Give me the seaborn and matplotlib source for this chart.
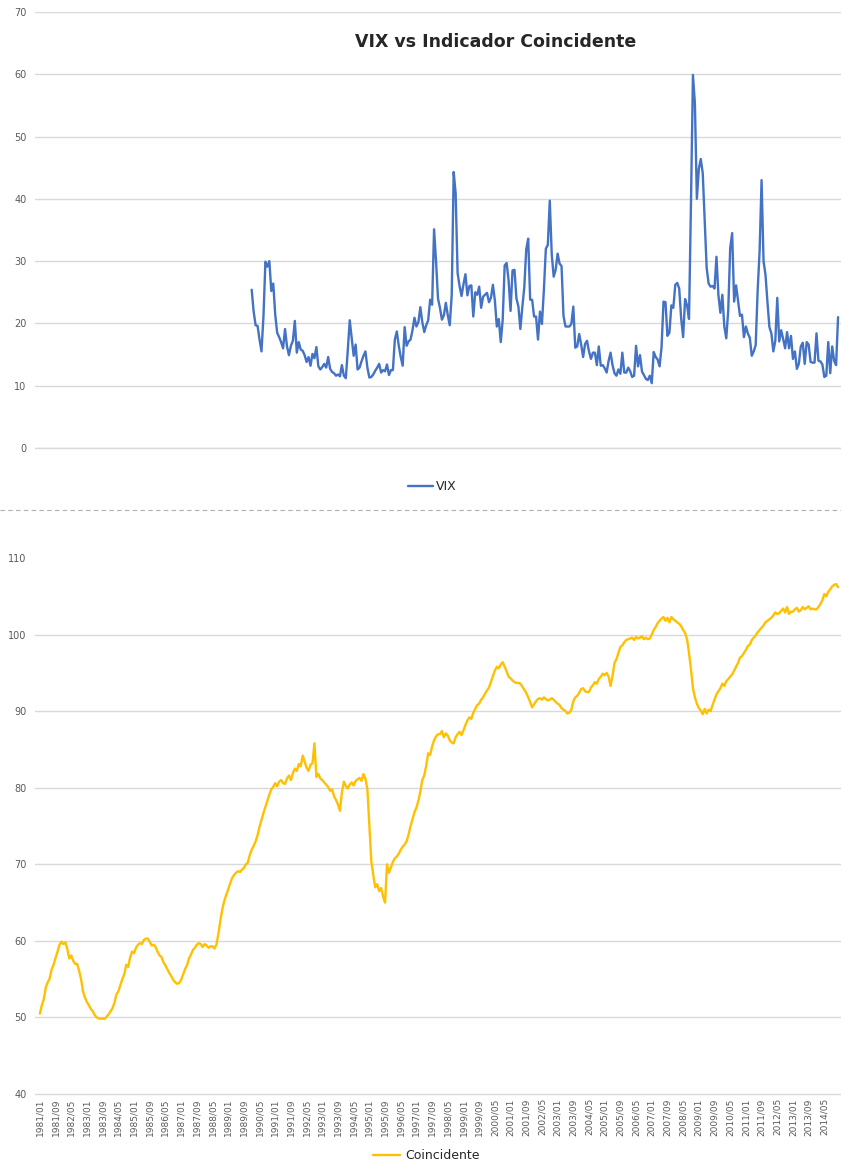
import pandas as pd
import numpy as np
import matplotlib
matplotlib.use("Agg")
import matplotlib.pyplot as plt
from matplotlib.lines import Line2D
import seaborn as sns

# VIX monthly close, 1990/01 - 2014/12
vix_values = [
    25.4, 21.9, 19.7, 19.6, 17.4, 15.5, 21.1, 29.9, 29.1, 30.0, 25.2, 26.4,  # 1990
    21.4, 18.5, 17.8, 17.0, 16.0, 19.1, 16.3, 14.9, 16.4, 17.2, 20.4, 15.3,  # 1991
    17.0, 15.8, 15.6, 14.9, 13.8, 14.6, 13.2, 15.1, 14.4, 16.2, 13.1, 12.6,  # 1992
    13.0, 13.5, 12.9, 14.6, 12.7, 12.2, 12.0, 11.6, 11.8, 11.5, 13.3, 11.6,  # 1993
    11.2, 15.7, 20.5, 17.6, 14.8, 16.6, 12.6, 12.9, 13.9, 14.8, 15.5, 12.9,  # 1994
    11.3, 11.4, 11.8, 12.4, 12.9, 13.5, 12.1, 12.5, 12.3, 13.4, 11.7, 12.5,  # 1995
    12.5, 17.4, 18.7, 16.4, 14.6, 13.2, 19.4, 16.4, 17.1, 17.4, 18.9, 20.9,  # 1996
    19.5, 20.2, 22.6, 20.2, 18.6, 19.7, 20.5, 23.8, 23.0, 35.1, 30.0, 24.0,  # 1997
    22.5, 20.6, 21.3, 23.3, 21.3, 19.7, 24.6, 44.3, 40.9, 28.1, 26.0, 24.4,  # 1998
    26.3, 27.9, 24.5, 26.0, 26.1, 21.1, 25.0, 24.6, 25.9, 22.5, 24.3, 24.6,  # 1999
    24.9, 23.4, 24.1, 26.2, 23.7, 19.5, 20.7, 17.0, 20.6, 29.3, 29.7, 26.9,  # 2000
    22.0, 28.5, 28.6, 24.0, 22.7, 19.1, 22.6, 25.8, 31.9, 33.6, 23.8, 23.8,  # 2001
    21.1, 21.1, 17.4, 21.9, 19.9, 25.4, 32.0, 32.6, 39.7, 31.1, 27.5, 28.6,  # 2002
    31.2, 29.6, 29.2, 21.2, 19.5, 19.5, 19.5, 19.9, 22.7, 16.1, 16.3, 18.3,  # 2003
    16.6, 14.6, 16.7, 17.2, 15.5, 14.3, 15.3, 15.3, 13.3, 16.3, 13.2, 13.3,  # 2004
    12.8, 12.1, 14.0, 15.3, 13.3, 12.0, 11.6, 12.6, 11.9, 15.3, 12.1, 12.1,  # 2005
    12.9, 12.3, 11.4, 11.6, 16.4, 13.1, 14.9, 12.3, 11.7, 11.1, 10.9, 11.6,  # 2006
    10.4, 15.4, 14.6, 14.2, 13.1, 16.2, 23.5, 23.4, 18.0, 18.5, 22.9, 22.5,  # 2007
    26.2, 26.5, 25.6, 20.8, 17.8, 23.9, 22.9, 20.7, 39.4, 59.9, 55.3, 40.0,  # 2008
    44.8, 46.4, 44.1, 36.5, 28.9, 26.4, 25.9, 26.0, 25.6, 30.7, 24.5, 21.7,  # 2009
    24.6, 19.5, 17.6, 22.1, 32.1, 34.5, 23.5, 26.1, 23.7, 21.2, 21.4, 17.8,  # 2010
    19.5, 18.4, 17.7, 14.8, 15.5, 16.5, 25.3, 31.6, 43.0, 30.0, 27.8, 23.4,  # 2011
    19.4, 18.4, 15.5, 17.2, 24.1, 17.1, 18.9, 17.5, 16.0, 18.6, 16.0, 18.0,  # 2012
    14.3, 15.5, 12.7, 13.5, 16.3, 16.9, 13.5, 17.0, 16.6, 13.8, 13.7, 13.7,  # 2013
    18.4, 14.0, 13.9, 13.4, 11.4, 11.6, 17.0, 12.0, 16.3, 14.0, 13.3, 21.0,  # 2014
]

# Indicador coincidente, 1981/01 - 2014/12
coincidente_values = [
    50.5, 51.6, 52.4, 53.9, 54.6, 55.1, 56.3, 56.9, 57.8, 58.6, 59.5, 59.9,  # 1981
    59.6, 59.8, 58.9, 57.7, 58.1, 57.4, 57.0, 57.0, 56.1, 55.0, 53.4, 52.6,  # 1982
    52.0, 51.6, 51.1, 50.8, 50.3, 50.0, 49.9, 49.8, 49.9, 49.8, 50.1, 50.4,  # 1983
    50.8, 51.2, 51.9, 53.0, 53.4, 54.2, 55.0, 55.6, 56.9, 56.6, 57.8, 58.6,  # 1984
    58.4, 59.1, 59.5, 59.7, 59.6, 60.1, 60.3, 60.3, 59.9, 59.4, 59.5, 59.2,  # 1985
    58.6, 58.1, 57.9, 57.2, 56.8, 56.3, 55.8, 55.4, 54.9, 54.6, 54.4, 54.5,  # 1986
    54.9, 55.6, 56.3, 56.8, 57.7, 58.2, 58.8, 59.1, 59.5, 59.7, 59.6, 59.2,  # 1987
    59.6, 59.4, 59.1, 59.3, 59.3, 59.0, 59.5, 60.9, 62.6, 64.1, 65.2, 66.0,  # 1988
    66.7, 67.5, 68.2, 68.6, 68.9, 69.1, 69.0, 69.3, 69.5, 70.0, 70.2, 71.2,  # 1989
    71.9, 72.4, 73.0, 73.8, 74.9, 75.8, 76.7, 77.5, 78.3, 79.1, 79.8, 80.1,  # 1990
    80.6, 80.2, 80.8, 81.0, 80.6, 80.5, 81.2, 81.6, 81.0, 81.9, 82.5, 82.2,  # 1991
    83.1, 82.8, 84.2, 83.4, 82.6, 82.2, 83.0, 83.2, 85.8, 81.4, 81.8, 81.2,  # 1992
    81.0, 80.7, 80.4, 80.1, 79.6, 79.8, 78.9, 78.4, 77.8, 77.0, 79.4, 80.8,  # 1993
    80.2, 79.9, 80.4, 80.7, 80.3, 80.9, 81.1, 81.3, 80.9, 81.8, 81.2, 79.8,  # 1994
    75.2, 70.4, 68.6, 67.0, 67.4, 66.5, 66.9, 65.8, 65.0, 70.0, 68.9, 69.6,  # 1995
    70.3, 70.8, 71.0, 71.4, 71.9, 72.3, 72.6, 73.0, 73.9, 75.0, 75.9, 76.8,  # 1996
    77.4, 78.3, 79.5, 81.0, 81.6, 82.9, 84.5, 84.3, 85.4, 86.2, 86.7, 87.0,  # 1997
    87.0, 87.4, 86.6, 87.1, 86.8, 86.2, 85.9, 85.8, 86.6, 87.0, 87.3, 86.9,  # 1998
    87.5, 88.2, 88.8, 89.2, 89.0, 89.8, 90.3, 90.8, 91.0, 91.5, 91.8, 92.3,  # 1999
    92.7, 93.1, 93.8, 94.6, 95.3, 95.8, 95.6, 96.1, 96.4, 95.8, 95.2, 94.5,  # 2000
    94.3, 94.0, 93.8, 93.7, 93.7, 93.6, 93.2, 92.8, 92.4, 91.8, 91.2, 90.5,  # 2001
    90.9, 91.3, 91.6, 91.7, 91.5, 91.8, 91.6, 91.4, 91.5, 91.7, 91.5, 91.2,  # 2002
    91.0, 90.8, 90.4, 90.2, 90.0, 89.7, 89.8, 90.2, 91.3, 91.8, 92.0, 92.4,  # 2003
    92.9, 93.0, 92.6, 92.5, 92.5, 93.1, 93.4, 93.8, 93.6, 94.2, 94.5, 94.9,  # 2004
    94.7, 95.0, 94.5, 93.3, 94.6, 96.3, 96.8, 97.6, 98.4, 98.6, 99.0, 99.3,  # 2005
    99.4, 99.5, 99.6, 99.3, 99.7, 99.5, 99.6, 99.8, 99.4, 99.6, 99.4, 99.5,  # 2006
    100.0, 100.6, 101.0, 101.5, 101.8, 102.1, 102.3, 101.8, 102.2, 101.6, 102.3, 102.0,  # 2007
    101.8, 101.6, 101.4, 101.1, 100.6, 100.2, 99.4, 97.6, 95.5, 93.0, 91.8, 91.0,  # 2008
    90.4, 90.1, 89.6, 90.3, 89.7, 90.2, 90.0, 90.8, 91.5, 92.2, 92.6, 93.0,  # 2009
    93.6, 93.3, 93.9, 94.2, 94.5, 94.8, 95.3, 95.8, 96.3, 97.0, 97.2, 97.6,  # 2010
    98.0, 98.5, 98.7, 99.3, 99.6, 99.9, 100.3, 100.6, 100.9, 101.2, 101.6, 101.8,  # 2011
    102.0, 102.2, 102.5, 102.9, 102.7, 102.8, 103.1, 103.4, 102.9, 103.6, 102.7, 103.0,  # 2012
    103.0, 103.3, 103.5, 103.0, 103.2, 103.6, 103.3, 103.5, 103.7, 103.3, 103.4, 103.3,  # 2013
    103.3, 103.6, 104.0, 104.5, 105.3, 105.0, 105.6, 105.9, 106.3, 106.5, 106.6, 106.2,  # 2014
]

start_month = "1981-01"
vix_start = "1990-01"

months = pd.date_range(start_month, periods=len(coincidente_values), freq="MS")
coin_df = pd.DataFrame({"pos": np.arange(len(months)), "valor": coincidente_values})
vix_offset = months.get_loc(pd.Timestamp(vix_start))
vix_df = pd.DataFrame({"pos": np.arange(len(vix_values)) + vix_offset, "valor": vix_values})

tick_pos = np.arange(0, len(months), 8)
tick_labels = months[tick_pos].strftime("%Y/%m")

sns.set_style("white")
plt.rcParams["font.family"] = ["DejaVu Sans"]

blue = "#4472C4"
gold = "#FFC000"
grid_c = "#d9d9d9"
txt_c = "#595959"

fig = plt.figure(figsize=(8.41, 11.65), dpi=100)
ax1 = fig.add_axes([0.0416, 0.6155, 0.9584, 0.3742])
ax2 = fig.add_axes([0.0416, 0.0609, 0.9584, 0.4601])

xmin, xmax = -2.5, len(months) + 0.5

# VIX panel
sns.lineplot(data=vix_df, x="pos", y="valor", ax=ax1, color=blue, linewidth=1.7, label="VIX")
ax1.set_ylim(0, 70)
ax1.set_yticks(range(0, 71, 10))
ax1.set_xlim(xmin, xmax)
ax1.set_xticks([])
ax1.set_xlabel("")
ax1.set_ylabel("")
ax1.grid(axis="y", color=grid_c, linewidth=1)
ax1.axhline(0, color=grid_c, linewidth=1, clip_on=False, zorder=0)
for s in ax1.spines.values():
    s.set_visible(False)
ax1.tick_params(axis="y", labelsize=7, colors=txt_c, length=0, pad=6)
ax1.legend(loc="center", bbox_to_anchor=(0.514, 0.582), bbox_transform=fig.transFigure,
           frameon=False, fontsize=9, handlelength=2.0, handletextpad=0.3)

# Coincidente panel
sns.lineplot(data=coin_df, x="pos", y="valor", ax=ax2, color=gold, linewidth=1.7, label="Coincidente")
ax2.set_ylim(40, 110)
ax2.set_yticks(range(40, 111, 10))
ax2.set_xlim(xmin, xmax)
ax2.set_xticks(tick_pos)
ax2.set_xticklabels(tick_labels, rotation=90, fontsize=6.5, color=txt_c)
ax2.set_xlabel("")
ax2.set_ylabel("")
for yv in range(40, 101, 10):
    ax2.axhline(yv, color=grid_c, linewidth=1, zorder=0, clip_on=False)
for s in ax2.spines.values():
    s.set_visible(False)
ax2.tick_params(axis="y", labelsize=7, colors=txt_c, length=0, pad=6)
ax2.tick_params(axis="x", length=0, pad=3)
ax2.legend(loc="center", bbox_to_anchor=(0.507, 0.008), bbox_transform=fig.transFigure,
           frameon=False, fontsize=9, handlelength=2.2, handletextpad=0.4)

# separator between the two chart objects
fig.add_artist(Line2D([0.0, 1.0], [1 - 510 / 1165, 1 - 510 / 1165], transform=fig.transFigure,
                      color="#b0b0b0", linewidth=0.8, linestyle=(0, (4, 3))))

fig.text(0.589, 1 - 42 / 1165, "VIX vs Indicador Coincidente", ha="center", va="center",
         fontsize=12.5, fontweight="bold", color="#262626")

fig.savefig("out.png", dpi=100)
